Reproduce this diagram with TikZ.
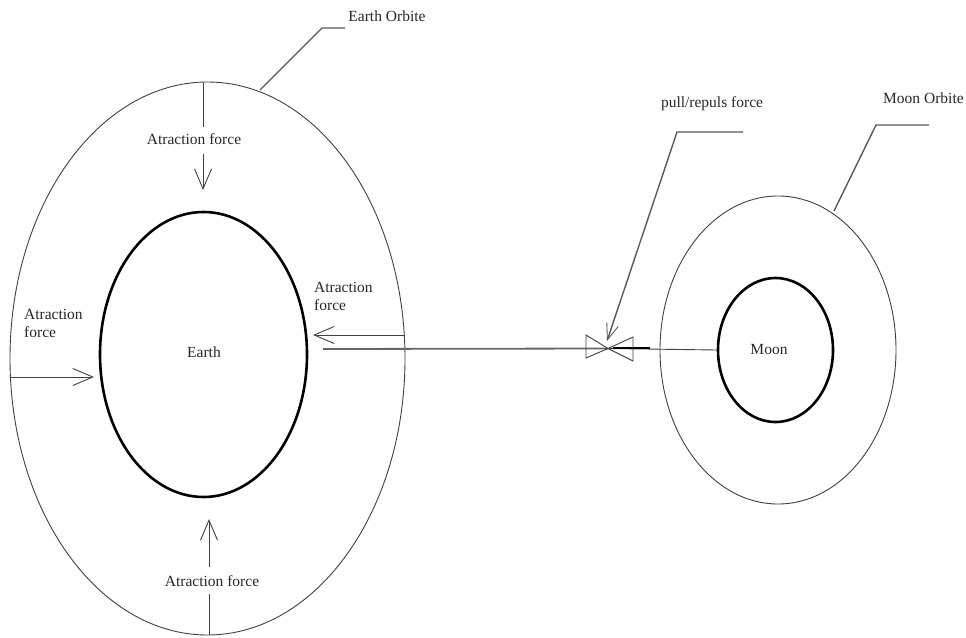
\documentclass[tikz,border=0pt]{standalone}
\usepackage{fontspec}
\setmainfont{Liberation Serif}
\usetikzlibrary{shapes.geometric,arrows.meta}
\begin{document}
\begin{tikzpicture}[x=1pt,y=-1pt,
 orbit/.style={ellipse,draw=black!75,line width=0.9pt,inner sep=0pt},
 body/.style={ellipse,draw=black,line width=2.6pt,inner sep=0pt},
 lbl/.style={font=\fontsize{15.5}{18}\selectfont,inner sep=1pt,text=black!85},
 force/.style={draw=black!75,line width=0.9pt,-{Straight Barb[length=20pt,width=17pt,line width=0.9pt]}},
 leader/.style={draw=black!65,line width=1.4pt},
 plain/.style={draw=black!75,line width=0.9pt}]
\useasboundingbox (0,0) rectangle (966,637);
% Earth
\node[orbit,minimum width=395pt,minimum height=553pt] (eorb) at (207.5,358.5) {};
\node[body,minimum width=207pt,minimum height=285pt] (earth) at (203.5,354.5) {};
\node[lbl] (earthlbl) at (204,352) {Earth};
% top force
\node[lbl] (ftop) at (194,139) {Atraction force};
\coordinate (ttop) at (203,83);
\coordinate (ttopend) at (203,127);
\coordinate (atop1) at (203,154);
\coordinate (atop2) at (203,190);
\draw[plain] (ttop) -- (ttopend);
\draw[force] (atop1) -- (atop2);
% bottom force
\node[lbl] (fbot) at (212,581) {Atraction force};
\coordinate (tbot) at (209,635);
\coordinate (tbotend) at (209,594);
\coordinate (abot1) at (209,567);
\coordinate (abot2) at (209,519);
\draw[plain] (tbot) -- (tbotend);
\draw[force] (abot1) -- (abot2);
% left force
\node[lbl,align=left,anchor=west] (fleft) at (23,323) {Atraction\\force};
\coordinate (al1) at (10,377);
\coordinate (al2) at (94,377);
\draw[force] (al1) -- (al2);
% right force
\node[lbl,align=left,anchor=west] (fright) at (313,296) {Atraction\\force};
\coordinate (ar1) at (405,335);
\coordinate (ar2) at (313,335);
\draw[force] (ar1) -- (ar2);
% Moon
\node[orbit,minimum width=236pt,minimum height=308pt] (morb) at (778,350) {};
\node[body,minimum width=115pt,minimum height=144pt] (moon) at (775.5,350) {};
\node[lbl] (moonlbl) at (769,349) {Moon};
% connecting line and bowtie
\coordinate (apex) at (608,348.5);
\coordinate (lstart) at (323,349);
\draw[draw=black!60,line width=1.8pt] (lstart) -- (apex);
\draw[plain] (moon.west) -- (apex);
\coordinate (thk1) at (613,348);
\coordinate (thk2) at (650,348);
\draw[draw=black,line width=1.6pt] (thk1) -- (thk2);
\draw[plain] (586,335) -- (586,358) -- (apex) -- cycle;
\draw[plain] (633,337) -- (633,361) -- (apex) -- cycle;
% labels with leaders
\node[lbl] (eorblbl) at (387,16) {Earth Orbite};
\coordinate (el1) at (345,28);
\coordinate (el2) at (322,28);
\coordinate (el3) at (260,90);
\draw[leader] (el1) -- (el2) -- (el3);
\node[lbl] (pulllbl) at (712,104) {pull/repuls force};
\coordinate (pl1) at (743,132);
\coordinate (pl2) at (677,132);
\coordinate (pl3) at (607,341);
\draw[leader,-{Straight Barb[length=16pt,width=12pt,line width=0.9pt]}] (pl1) -- (pl2) -- (pl3);
\node[lbl,anchor=west] (morblbl) at (882,98) {Moon Orbite};
\coordinate (ml1) at (929,125);
\coordinate (ml2) at (876,125);
\coordinate (ml3) at (834,211);
\draw[leader] (ml1) -- (ml2) -- (ml3);
\end{tikzpicture}
\end{document}
